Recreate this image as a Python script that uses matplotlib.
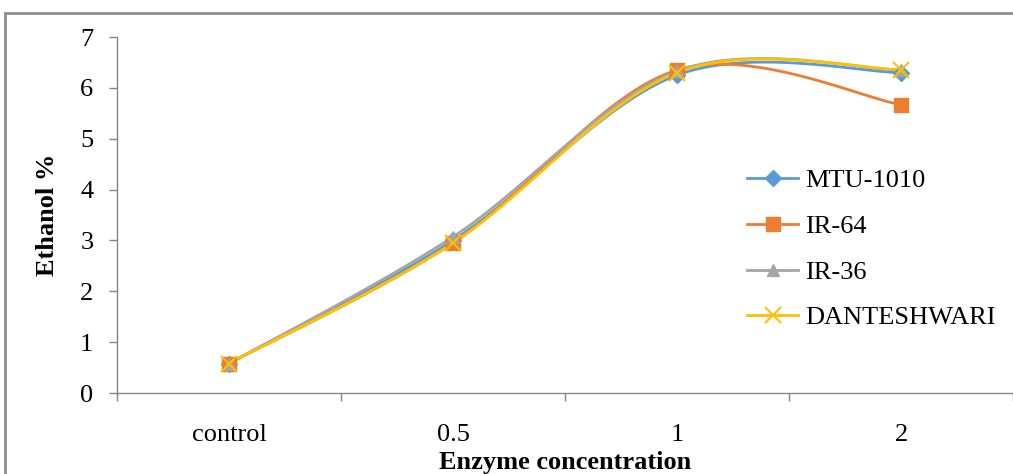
import numpy as np
import matplotlib
matplotlib.use("Agg")
import matplotlib.pyplot as plt
from matplotlib.patches import Rectangle

categories = ["control", "0.5", "1", "2"]
mtu_1010 = [0.58, 3.0, 6.25, 6.3]
ir_64 = [0.58, 2.95, 6.35, 5.67]
ir_36 = [0.58, 3.07, 6.33, 6.35]
danteshwari = [0.58, 2.95, 6.3, 6.36]

series_names = ["MTU-1010", "IR-64", "IR-36", "DANTESHWARI"]
colors = ["#5B9BD5", "#ED7D31", "#A5A5A5", "#FFC000"]
markers = ["D", "s", "^", "x"]

plt.rcParams['font.family'] = ['Liberation Serif', 'DejaVu Serif']


def smooth(xs, ys, n=40):
    # Excel-like smoothed line: Catmull-Rom via cubic Bezier segments
    xs = np.asarray(xs, float)
    ys = np.asarray(ys, float)
    pts = np.column_stack([xs, ys])
    out = []
    for i in range(len(pts) - 1):
        p0 = pts[i - 1] if i > 0 else pts[i]
        p1 = pts[i]
        p2 = pts[i + 1]
        p3 = pts[i + 2] if i + 2 < len(pts) else pts[i + 1]
        c1 = p1 + (p2 - p0) / 6.0
        c2 = p2 - (p3 - p1) / 6.0
        t = np.linspace(0, 1, n)[:, None]
        seg = ((1 - t) ** 3) * p1 + 3 * ((1 - t) ** 2) * t * c1 + 3 * (1 - t) * t ** 2 * c2 + t ** 3 * p2
        out.append(seg if i == 0 else seg[1:])
    s = np.vstack(out)
    return s[:, 0], s[:, 1]


fig = plt.figure(figsize=(10.13, 4.74), dpi=100)
# outer frame of the figure image
fig.patches.append(Rectangle((5 / 1013, -0.05), 1.2, (474 - 13) / 474 + 0.05,
                             transform=fig.transFigure, fill=False,
                             edgecolor="#8c8c8c", linewidth=2.0, zorder=0))

ax = fig.add_axes([117 / 1013, 81 / 474, 1 - 117 / 1013, (393 - 37) / 474])
x = np.arange(len(categories))
data = [mtu_1010, ir_64, ir_36, danteshwari]
sizes = {"D": 8, "s": 10, "^": 9, "x": 12}
handles = []
for name, ys, c, m in zip(series_names, data, colors, markers):
    sx, sy = smooth(x, ys)
    ax.plot(sx, sy, color=c, linewidth=2.0, solid_capstyle="round", zorder=3)
    ax.plot(x, ys, linestyle="none", marker=m, markersize=sizes[m],
            markeredgewidth=1.5 if m == "x" else 1.0,
            color=c, markeredgecolor=c, zorder=4)
    h, = ax.plot([], [], color=c, linewidth=2.0, marker=m, markersize=sizes[m],
                 markeredgewidth=1.5 if m == "x" else 1.0, label=name)
    handles.append(h)

ax.set_xlim(-0.5, -0.5 + 896 / 225)
ax.set_ylim(0, 7)
ax.set_yticks(range(0, 8))
ax.set_xticks(x)
ax.set_xticklabels(categories)
ax.set_xticks(np.arange(-0.5, 3.6, 1.0), minor=True)
ax.tick_params(axis="x", which="major", length=0, pad=22, labelsize=19)
ax.tick_params(axis="x", which="minor", length=6, color="#868686", width=1)
ax.tick_params(axis="y", length=6, color="#868686", width=1, labelsize=19, pad=11)
for s in ["top", "right"]:
    ax.spines[s].set_visible(False)
for s in ["left", "bottom"]:
    ax.spines[s].set_color("#868686")
    ax.spines[s].set_linewidth(1)

ax.set_xlabel("Enzyme concentration", fontsize=19, fontweight="bold", labelpad=4)
ax.set_ylabel("Ethanol %", fontsize=19, fontweight="bold", labelpad=15)

leg = ax.legend(handles=handles, loc="upper left",
                bbox_to_anchor=((747 - 117) / 896, (393 - 169) / 356),
                frameon=False, fontsize=19, handlelength=1.95, labelspacing=0.84,
                handletextpad=0.25, borderaxespad=0, borderpad=0)

fig.savefig("out.png", dpi=100)
